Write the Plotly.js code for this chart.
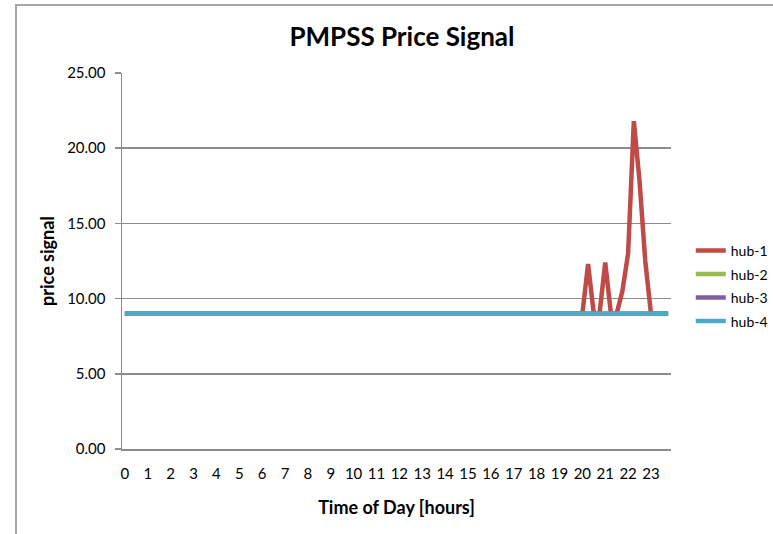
<!DOCTYPE html>
<html>
<head>
<meta charset="utf-8">
<script src="https://cdn.plot.ly/plotly-3.0.1.min.js"></script>
<style>
html, body { margin: 0; padding: 0; background: #fff; }
#wrap { position: relative; width: 773px; height: 534px; }
#frame { position: absolute; left: 15px; top: 4px; width: 780px; height: 560px; border-left: 2px solid #a6a6a6; border-top: 2px solid #a6a6a6; box-sizing: border-box; pointer-events: none; z-index: 5; }
#chart { position: absolute; left: 0; top: 0; width: 773px; height: 534px; }
</style>
</head>
<body>
<div id="wrap">
<div id="chart"></div>
<div id="frame"></div>
</div>
<script>
// Time of day in hours, 15-minute steps (96 samples)
var times = [
 0,0.25,0.5,0.75, 1,1.25,1.5,1.75, 2,2.25,2.5,2.75, 3,3.25,3.5,3.75,
 4,4.25,4.5,4.75, 5,5.25,5.5,5.75, 6,6.25,6.5,6.75, 7,7.25,7.5,7.75,
 8,8.25,8.5,8.75, 9,9.25,9.5,9.75, 10,10.25,10.5,10.75, 11,11.25,11.5,11.75,
 12,12.25,12.5,12.75, 13,13.25,13.5,13.75, 14,14.25,14.5,14.75, 15,15.25,15.5,15.75,
 16,16.25,16.5,16.75, 17,17.25,17.5,17.75, 18,18.25,18.5,18.75, 19,19.25,19.5,19.75,
 20,20.25,20.5,20.75, 21,21.25,21.5,21.75, 22,22.25,22.5,22.75, 23,23.25,23.5,23.75
];
var hourTicks = [0,1,2,3,4,5,6,7,8,9,10,11,12,13,14,15,16,17,18,19,20,21,22,23];
var hourLabels = ["0","1","2","3","4","5","6","7","8","9","10","11","12","13","14","15","16","17","18","19","20","21","22","23"];

var hub1 = [
 9,9,9,9, 9,9,9,9, 9,9,9,9, 9,9,9,9,
 9,9,9,9, 9,9,9,9, 9,9,9,9, 9,9,9,9,
 9,9,9,9, 9,9,9,9, 9,9,9,9, 9,9,9,9,
 9,9,9,9, 9,9,9,9, 9,9,9,9, 9,9,9,9,
 9,9,9,9, 9,9,9,9, 9,9,9,9, 9,9,9,9,
 9,12.3,9,9, 12.4,9,9,10.5, 13.0,21.8,17.8,12.5, 9,9,9,9
];
var hub2 = [
 9,9,9,9, 9,9,9,9, 9,9,9,9, 9,9,9,9,
 9,9,9,9, 9,9,9,9, 9,9,9,9, 9,9,9,9,
 9,9,9,9, 9,9,9,9, 9,9,9,9, 9,9,9,9,
 9,9,9,9, 9,9,9,9, 9,9,9,9, 9,9,9,9,
 9,9,9,9, 9,9,9,9, 9,9,9,9, 9,9,9,9,
 9,9,9,9, 9,9,9,9, 9,9,9,9, 9,9,9,9
];
var hub3 = [
 9,9,9,9, 9,9,9,9, 9,9,9,9, 9,9,9,9,
 9,9,9,9, 9,9,9,9, 9,9,9,9, 9,9,9,9,
 9,9,9,9, 9,9,9,9, 9,9,9,9, 9,9,9,9,
 9,9,9,9, 9,9,9,9, 9,9,9,9, 9,9,9,9,
 9,9,9,9, 9,9,9,9, 9,9,9,9, 9,9,9,9,
 9,9,9,9, 9,9,9,9, 9,9,9,9, 9,9,9,9
];
var hub4 = [
 9,9,9,9, 9,9,9,9, 9,9,9,9, 9,9,9,9,
 9,9,9,9, 9,9,9,9, 9,9,9,9, 9,9,9,9,
 9,9,9,9, 9,9,9,9, 9,9,9,9, 9,9,9,9,
 9,9,9,9, 9,9,9,9, 9,9,9,9, 9,9,9,9,
 9,9,9,9, 9,9,9,9, 9,9,9,9, 9,9,9,9,
 9,9,9,9, 9,9,9,9, 9,9,9,9, 9,9,9,9
];
var seriesNames = ["hub-1","hub-2","hub-3","hub-4"];
var seriesColors = ["#BE4B48","#98B954","#7D60A0","#4BACC6"];
var seriesData = [hub1, hub2, hub3, hub4];

var FONT = "Lato, 'Open Sans', 'DejaVu Sans', sans-serif";
var legendIds = ["legend","legend2","legend3","legend4"];
var traces = seriesData.map(function (d, k) {
  return {
    x: times, y: d, type: "scatter", mode: "lines",
    name: seriesNames[k],
    legend: legendIds[k],
    line: { color: seriesColors[k], width: 4.5 },
    hoverinfo: "x+y+name"
  };
});

// legend rows placed like the original (one legend box per series)
var plotTop = 73, plotH = 376;
var rowCenters = [251, 274.5, 298, 321.5];
function legendBox(i) {
  return {
    x: 1.036, xanchor: "left",
    y: (plotTop + plotH - rowCenters[i]) / plotH, yanchor: "middle",
    font: { family: FONT, size: 14, color: "#000" },
    bgcolor: "rgba(0,0,0,0)", itemwidth: 30
  };
}

var layout = {
  width: 773, height: 534,
  margin: { l: 122, r: 102, t: 73, b: 85, autoexpand: false },
  paper_bgcolor: "#ffffff", plot_bgcolor: "#ffffff",
  title: { text: "<b>PMPSS Price Signal</b>", x: 0.52, xanchor: "center", y: 0.931, yanchor: "middle",
           font: { family: FONT, size: 26, color: "#000" } },
  xaxis: {
    range: [-0.125, 23.875],
    tickmode: "array", tickvals: hourTicks, ticktext: hourLabels,
    showgrid: false, zeroline: false,
    showline: true, linecolor: "#8c8c8c", linewidth: 1.5,
    ticks: "", ticklen: 0,
    ticklabelstandoff: 10,
    tickfont: { family: FONT, size: 15, color: "#000" },
    title: { text: "<b>Time of Day [hours]</b>", standoff: 21, font: { family: FONT, size: 18, color: "#000" } }
  },
  yaxis: {
    range: [0, 25], dtick: 5, tick0: 0,
    tickformat: ".2f",
    showgrid: true, gridcolor: "#8c8c8c", gridwidth: 1.5,
    zeroline: false,
    showline: true, linecolor: "#8c8c8c", linewidth: 1.5,
    ticks: "outside", ticklen: 6, tickcolor: "#8c8c8c", tickwidth: 1.5,
    ticklabelstandoff: 6,
    tickfont: { family: FONT, size: 15, color: "#000" },
    title: { text: "<b>price signal</b>", standoff: 8, font: { family: FONT, size: 18, color: "#000" } }
  },
  legend: legendBox(0),
  legend2: legendBox(1),
  legend3: legendBox(2),
  legend4: legendBox(3),
  showlegend: true
};

Plotly.newPlot("chart", traces, layout, { displayModeBar: false, staticPlot: true });
</script>
</body>
</html>
